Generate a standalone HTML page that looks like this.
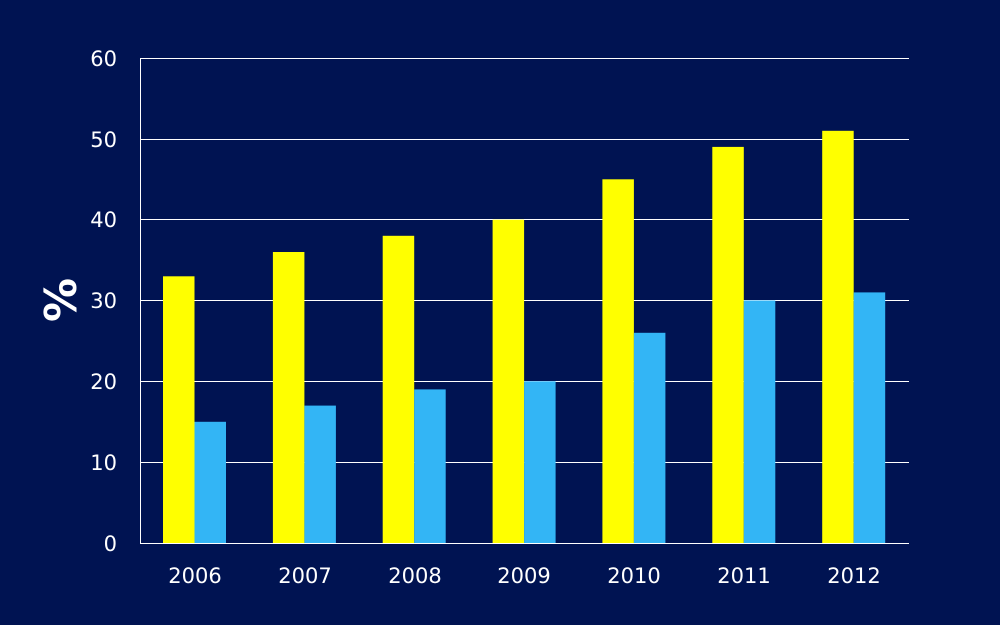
<!DOCTYPE html>
<html><head><style>html,body{margin:0;padding:0;background:#001352;overflow:hidden;}</style></head>
<body>
<svg width="1000" height="625" xmlns="http://www.w3.org/2000/svg" font-family="'DejaVu Sans','Liberation Sans',sans-serif" style="display:block">
<rect width="1000" height="625" fill="#001352"/>
<g stroke="#ffffff" stroke-width="1">
<line x1="140" y1="58.5" x2="909" y2="58.5"/>
<line x1="140" y1="139.5" x2="909" y2="139.5"/>
<line x1="140" y1="219.5" x2="909" y2="219.5"/>
<line x1="140" y1="300.5" x2="909" y2="300.5"/>
<line x1="140" y1="381.5" x2="909" y2="381.5"/>
<line x1="140" y1="462.5" x2="909" y2="462.5"/>
<line x1="140" y1="543.5" x2="909" y2="543.5"/>
<line x1="140.5" y1="58" x2="140.5" y2="543"/>
</g>
<g fill="#ffff00">
<rect x="163" y="276.3" width="31.5" height="266.7"/>
<rect x="272.9" y="252" width="31.5" height="291"/>
<rect x="382.7" y="235.8" width="31.5" height="307.2"/>
<rect x="492.6" y="219.7" width="31.5" height="323.3"/>
<rect x="602.4" y="179.3" width="31.5" height="363.7"/>
<rect x="712.3" y="146.9" width="31.5" height="396.1"/>
<rect x="822.2" y="130.8" width="31.5" height="412.2"/>
</g>
<g fill="#33b5f5">
<rect x="194.5" y="421.8" width="31.5" height="121.2"/>
<rect x="304.4" y="405.6" width="31.5" height="137.4"/>
<rect x="414.2" y="389.4" width="31.5" height="153.6"/>
<rect x="524.1" y="381.3" width="31.5" height="161.7"/>
<rect x="633.9" y="332.8" width="31.5" height="210.2"/>
<rect x="743.8" y="300.5" width="31.5" height="242.5"/>
<rect x="853.7" y="292.4" width="31.5" height="250.6"/>
</g>
<g fill="#ffffff" font-size="21" text-anchor="end">
<text x="117" y="66">60</text><text x="117" y="147">50</text><text x="117" y="227">40</text>
<text x="117" y="308">30</text><text x="117" y="389">20</text><text x="117" y="470">10</text><text x="117" y="551">0</text>
</g>
<g fill="#ffffff" font-size="21" text-anchor="middle">
<text x="195" y="583">2006</text><text x="305" y="583">2007</text><text x="415" y="583">2008</text>
<text x="524" y="583">2009</text><text x="634" y="583">2010</text><text x="744" y="583">2011</text><text x="854" y="583">2012</text>
</g>
<text transform="translate(76,300) rotate(-90)" fill="#ffffff" font-size="44" font-weight="bold" text-anchor="middle">%</text>
</svg>
</body></html>
